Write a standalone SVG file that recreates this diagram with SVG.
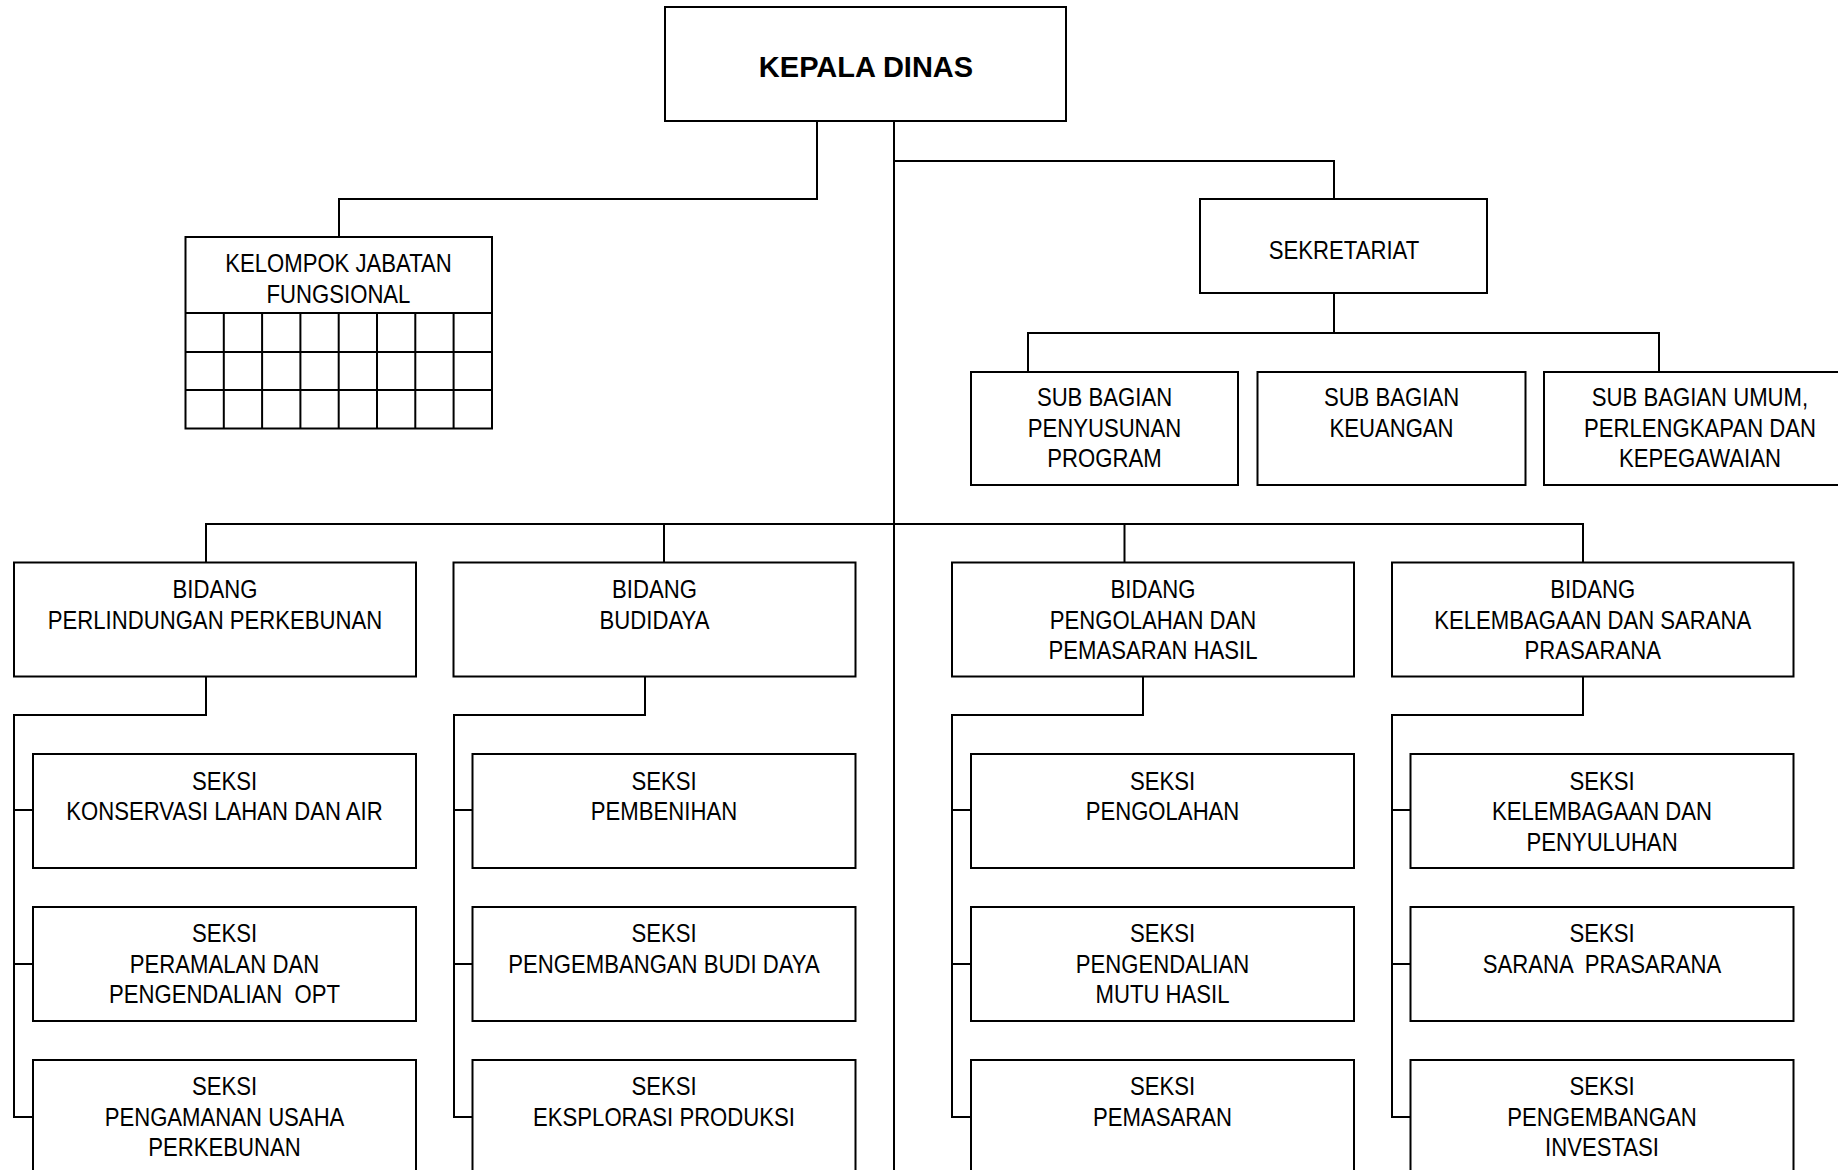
<svg xmlns="http://www.w3.org/2000/svg" width="1838" height="1170" viewBox="0 0 1838 1170">
  <style>
    .box { fill: #ffffff; stroke: #000000; stroke-width: 2; }
    .grid { fill: none; stroke: #000000; stroke-width: 2; }
    .conn { fill: none; stroke: #000000; stroke-width: 2; }
    text { font-family: "Liberation Sans", Arial, sans-serif; font-size: 26.5px; fill: #000000; text-anchor: middle; white-space: pre; }
    .head { font-weight: bold; font-size: 29px; }
  </style>
  <rect width="1838" height="1170" fill="#ffffff"/>

  <!-- connectors -->
  <g id="connectors">
    <path class="conn" d="M894 121 V1170"/>
    <path class="conn" d="M817 121 V199 H339 V237"/>
    <path class="conn" d="M894 161 H1334 V199"/>
    <path class="conn" d="M1334 293 V333"/>
    <path class="conn" d="M1028 372 V333 H1659 V372"/>
    <path class="conn" d="M206 562.5 V524 H1583 V562.5"/>
    <path class="conn" d="M664 524 V562.5"/>
    <path class="conn" d="M1124.5 524 V562.5"/>
    <path class="conn" d="M206 676.5 V715 H14 V1117 H33 M14 810 H33 M14 964 H33"/>
    <path class="conn" d="M645 676.5 V715 H454 V1117 H472.5 M454 810 H472.5 M454 964 H472.5"/>
    <path class="conn" d="M1143 676.5 V715 H952 V1117 H971 M952 810 H971 M952 964 H971"/>
    <path class="conn" d="M1583 676.5 V715 H1392 V1117 H1410.5 M1392 810 H1410.5 M1392 964 H1410.5"/>
  </g>

  <!-- head -->
  <g id="kepala-dinas">
    <rect class="box" x="665" y="7" width="401" height="114"/>
    <text class="head" x="866" y="77">KEPALA DINAS</text>
  </g>

  <!-- functional group with its grid of positions; body labels use a condensed horizontal scale -->
  <g id="kelompok-jabatan-fungsional">
    <rect class="box" x="185.5" y="237" width="306.5" height="191.5"/>
    <path class="grid" d="M185.5 313 H492 M185.5 352 H492 M185.5 390 H492 M223.8 313 V428.5 M262.1 313 V428.5 M300.4 313 V428.5 M338.7 313 V428.5 M377 313 V428.5 M415.3 313 V428.5 M453.6 313 V428.5"/>
    <text transform="translate(338.5 272) scale(0.835 1)">KELOMPOK JABATAN</text>
    <text transform="translate(338.5 302.5) scale(0.835 1)">FUNGSIONAL</text>
  </g>

  <!-- secretariat -->
  <g id="sekretariat">
    <rect class="box" x="1200" y="199" width="287" height="94"/>
    <text transform="translate(1344 259) scale(0.835 1)">SEKRETARIAT</text>
  </g>
  <g id="sub-bagian-penyusunan-program">
    <rect class="box" x="971" y="372" width="267" height="113"/>
    <text transform="translate(1104.5 406) scale(0.835 1)">SUB BAGIAN</text>
    <text transform="translate(1104.5 436.5) scale(0.835 1)">PENYUSUNAN</text>
    <text transform="translate(1104.5 467) scale(0.835 1)">PROGRAM</text>
  </g>
  <g id="sub-bagian-keuangan">
    <rect class="box" x="1257.5" y="372" width="268" height="113"/>
    <text transform="translate(1391.5 406) scale(0.835 1)">SUB BAGIAN</text>
    <text transform="translate(1391.5 436.5) scale(0.835 1)">KEUANGAN</text>
  </g>
  <g id="sub-bagian-umum">
    <rect class="box" x="1544" y="372" width="312" height="113"/>
    <text transform="translate(1700 406) scale(0.835 1)">SUB BAGIAN UMUM,</text>
    <text transform="translate(1700 436.5) scale(0.835 1)">PERLENGKAPAN DAN</text>
    <text transform="translate(1700 467) scale(0.835 1)">KEPEGAWAIAN</text>
  </g>

  <!-- bidang row -->
  <g id="bidang-perlindungan">
    <rect class="box" x="14" y="562.5" width="402" height="114"/>
    <text transform="translate(215 598) scale(0.835 1)">BIDANG</text>
    <text transform="translate(215 628.5) scale(0.835 1)">PERLINDUNGAN PERKEBUNAN</text>
  </g>
  <g id="bidang-budidaya">
    <rect class="box" x="453.5" y="562.5" width="402" height="114"/>
    <text transform="translate(654.5 598) scale(0.835 1)">BIDANG</text>
    <text transform="translate(654.5 628.5) scale(0.835 1)">BUDIDAYA</text>
  </g>
  <g id="bidang-pengolahan">
    <rect class="box" x="952" y="562.5" width="402" height="114"/>
    <text transform="translate(1153 598) scale(0.835 1)">BIDANG</text>
    <text transform="translate(1153 628.5) scale(0.835 1)">PENGOLAHAN DAN</text>
    <text transform="translate(1153 659) scale(0.835 1)">PEMASARAN HASIL</text>
  </g>
  <g id="bidang-kelembagaan">
    <rect class="box" x="1392" y="562.5" width="401.5" height="114"/>
    <text transform="translate(1592.75 598) scale(0.835 1)">BIDANG</text>
    <text transform="translate(1592.75 628.5) scale(0.835 1)">KELEMBAGAAN DAN SARANA</text>
    <text transform="translate(1592.75 659) scale(0.835 1)">PRASARANA</text>
  </g>

  <!-- seksi: column 1 -->
  <g id="seksi-konservasi">
    <rect class="box" x="33" y="754" width="383" height="114"/>
    <text transform="translate(224.5 789.5) scale(0.835 1)">SEKSI</text>
    <text transform="translate(224.5 820) scale(0.835 1)">KONSERVASI LAHAN DAN AIR</text>
  </g>
  <g id="seksi-peramalan">
    <rect class="box" x="33" y="907" width="383" height="114"/>
    <text transform="translate(224.5 942) scale(0.835 1)">SEKSI</text>
    <text transform="translate(224.5 972.5) scale(0.835 1)">PERAMALAN DAN</text>
    <text transform="translate(224.5 1003) scale(0.835 1)">PENGENDALIAN  OPT</text>
  </g>
  <g id="seksi-pengamanan">
    <rect class="box" x="33" y="1060" width="383" height="120"/>
    <text transform="translate(224.5 1095) scale(0.835 1)">SEKSI</text>
    <text transform="translate(224.5 1125.5) scale(0.835 1)">PENGAMANAN USAHA</text>
    <text transform="translate(224.5 1156) scale(0.835 1)">PERKEBUNAN</text>
  </g>

  <!-- seksi: column 2 -->
  <g id="seksi-pembenihan">
    <rect class="box" x="472.5" y="754" width="383" height="114"/>
    <text transform="translate(664 789.5) scale(0.835 1)">SEKSI</text>
    <text transform="translate(664 820) scale(0.835 1)">PEMBENIHAN</text>
  </g>
  <g id="seksi-pengembangan-budi-daya">
    <rect class="box" x="472.5" y="907" width="383" height="114"/>
    <text transform="translate(664 942) scale(0.835 1)">SEKSI</text>
    <text transform="translate(664 972.5) scale(0.835 1)">PENGEMBANGAN BUDI DAYA</text>
  </g>
  <g id="seksi-eksplorasi">
    <rect class="box" x="472.5" y="1060" width="383" height="120"/>
    <text transform="translate(664 1095) scale(0.835 1)">SEKSI</text>
    <text transform="translate(664 1125.5) scale(0.835 1)">EKSPLORASI PRODUKSI</text>
  </g>

  <!-- seksi: column 3 -->
  <g id="seksi-pengolahan">
    <rect class="box" x="971" y="754" width="383" height="114"/>
    <text transform="translate(1162.5 789.5) scale(0.835 1)">SEKSI</text>
    <text transform="translate(1162.5 820) scale(0.835 1)">PENGOLAHAN</text>
  </g>
  <g id="seksi-pengendalian-mutu">
    <rect class="box" x="971" y="907" width="383" height="114"/>
    <text transform="translate(1162.5 942) scale(0.835 1)">SEKSI</text>
    <text transform="translate(1162.5 972.5) scale(0.835 1)">PENGENDALIAN</text>
    <text transform="translate(1162.5 1003) scale(0.835 1)">MUTU HASIL</text>
  </g>
  <g id="seksi-pemasaran">
    <rect class="box" x="971" y="1060" width="383" height="120"/>
    <text transform="translate(1162.5 1095) scale(0.835 1)">SEKSI</text>
    <text transform="translate(1162.5 1125.5) scale(0.835 1)">PEMASARAN</text>
  </g>

  <!-- seksi: column 4 -->
  <g id="seksi-kelembagaan">
    <rect class="box" x="1410.5" y="754" width="383" height="114"/>
    <text transform="translate(1602 789.5) scale(0.835 1)">SEKSI</text>
    <text transform="translate(1602 820) scale(0.835 1)">KELEMBAGAAN DAN</text>
    <text transform="translate(1602 850.5) scale(0.835 1)">PENYULUHAN</text>
  </g>
  <g id="seksi-sarana-prasarana">
    <rect class="box" x="1410.5" y="907" width="383" height="114"/>
    <text transform="translate(1602 942) scale(0.835 1)">SEKSI</text>
    <text transform="translate(1602 972.5) scale(0.835 1)">SARANA  PRASARANA</text>
  </g>
  <g id="seksi-pengembangan-investasi">
    <rect class="box" x="1410.5" y="1060" width="383" height="120"/>
    <text transform="translate(1602 1095) scale(0.835 1)">SEKSI</text>
    <text transform="translate(1602 1125.5) scale(0.835 1)">PENGEMBANGAN</text>
    <text transform="translate(1602 1156) scale(0.835 1)">INVESTASI</text>
  </g>
</svg>
